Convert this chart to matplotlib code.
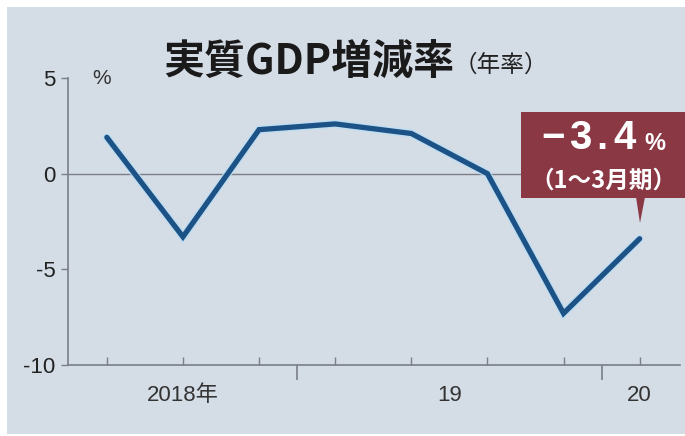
import matplotlib.pyplot as plt
from matplotlib.patches import Rectangle, Polygon
import matplotlib.patheffects as pe

# Data (quarterly, annualized real GDP growth, %)
quarters = ['2018Q2', '2018Q3', '2018Q4', '2019Q1', '2019Q2', '2019Q3', '2019Q4', '2020Q1']
growth = [1.9, -3.3, 2.3, 2.6, 2.1, 0.0, -7.3, -3.4]
year_labels = ['2018年', '19', '20']
year_label_pos = [1, 4.5, 7]
year_breaks = [2.5, 6.5]
yticks = [5, 0, -5, -10]

W, H = 685, 436
bg = '#d4dce6'
line_color = '#1c5285'
box_color = '#8b3845'
axis_gray = '#7a7f86'
num_font = ['Liberation Sans Narrow', 'Liberation Sans', 'DejaVu Sans']
jp_font = ['Noto Sans CJK JP', 'DejaVu Sans']

fig = plt.figure(figsize=(W / 100, H / 100), dpi=100)
fig.patch.set_facecolor('white')
fig.add_artist(Rectangle((7 / W, 2 / H), 1, 1 - 9 / H, transform=fig.transFigure,
                         facecolor=bg, edgecolor='none', zorder=0))

ax = fig.add_axes([68 / W, 71 / H, (680 - 68) / W, (358 - 71) / H])
ax.set_facecolor('none')
x = list(range(len(quarters)))
ax.set_xlim(-0.51, 7.53)
ax.set_ylim(-10, 5)

# zero line
ax.axhline(0, color=axis_gray, lw=1.0, zorder=1)

ax.plot(x, growth, color=line_color, lw=3.8, solid_capstyle='round',
        solid_joinstyle='miter', zorder=3,
        path_effects=[pe.Stroke(linewidth=5.8, foreground='#b9def5', alpha=0.8), pe.Normal()])

for s in ['top', 'right']:
    ax.spines[s].set_visible(False)
for s in ['left', 'bottom']:
    ax.spines[s].set_color(axis_gray)
    ax.spines[s].set_linewidth(1.2)

ax.set_yticks(yticks)
ax.set_yticklabels([str(v) for v in yticks], family=num_font, fontsize=16, color='#222222')
ax.tick_params(axis='y', direction='out', length=5, width=1, color=axis_gray, pad=4)

ax.set_xticks(year_breaks)
ax.set_xticklabels([])
ax.tick_params(axis='x', which='major', direction='out', length=11, width=1.2, color=axis_gray)
ax.set_xticks(x, minor=True)
ax.tick_params(axis='x', which='minor', direction='in', length=6, width=1, color=axis_gray)

for lab, pos in zip(year_labels, year_label_pos):
    ax.text(pos, -11.6, lab, ha='center', va='center', fontsize=16, color='#333333',
            family=num_font + jp_font, clip_on=False)

# unit label
ax.text(0.04, 5, '%', transform=ax.get_yaxis_transform(), ha='left', va='center',
        fontsize=15, color='#333333', family=num_font)

# title
fig.text(163 / W, 1 - 62 / H, '実質GDP増減率', family=jp_font, fontsize=29.5,
         fontweight='bold', ha='left', va='center', color='#1a1a1a')
fig.text(454 / W, 1 - 65 / H, '（年率）', family=jp_font, fontsize=17,
         ha='left', va='center', color='#222222')

# callout box
fig.add_artist(Rectangle((521 / W, 1 - 198 / H), (685 - 521) / W, (198 - 112) / H,
                         transform=fig.transFigure, facecolor=box_color,
                         edgecolor='none', zorder=4))
fig.add_artist(Polygon([(636 / W, 1 - 197 / H), (645 / W, 1 - 197 / H), (640 / W, 1 - 223 / H)],
                       closed=True, transform=fig.transFigure, facecolor=box_color,
                       edgecolor='none', zorder=4))
# big value, letter-spaced
value_text = f'{growth[-1]:.1f}'.replace('-', '\u2212')
char_x = [553, 580, 602, 625]
for ch, cx in zip(value_text, char_x):
    fig.text(cx / W, 1 - 138 / H, ch, family=['Liberation Sans', 'DejaVu Sans'], fontsize=29,
             fontweight='bold', color='white', ha='center', va='center', zorder=5)
fig.text(655 / W, 1 - 143 / H, '%', family=['Liberation Sans', 'DejaVu Sans'], fontsize=17,
         fontweight='bold', color='white', ha='center', va='center', zorder=5)
fig.text(603 / W, 1 - 181 / H, '（1～3月期）', family=jp_font, fontsize=17,
         fontweight='bold', color='white', ha='center', va='center', zorder=5)

fig.savefig('out.png', dpi=100)
